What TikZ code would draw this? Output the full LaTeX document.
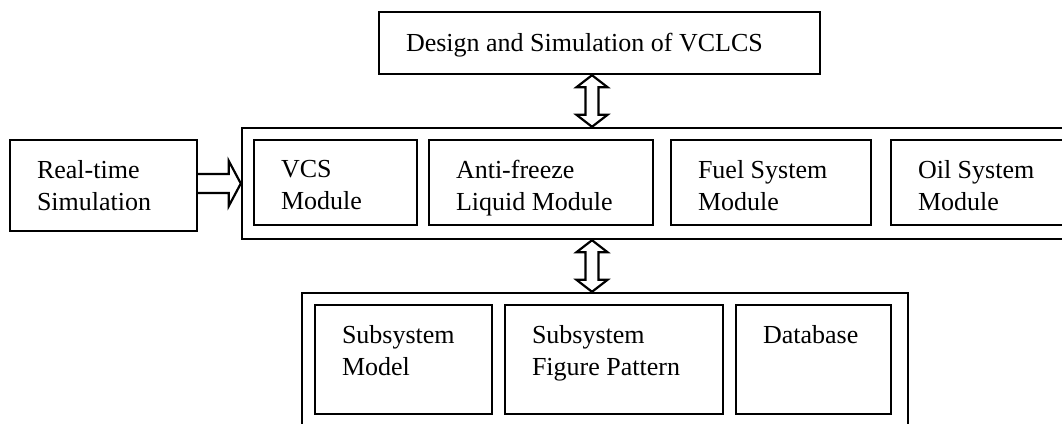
\documentclass[tikz,border=0pt]{standalone}
\usepackage{fontspec}
\setmainfont{Liberation Serif}
\usetikzlibrary{calc}

% hollow arrows between two points
\newcommand{\fatboth}[2]{%
  \draw[fat] (#1) -- ($(#1)+(15.5,12)$) -- ($(#1)+(6.5,12)$) -- ($(#2)+(6.5,-12)$)
    -- ($(#2)+(15.5,-12)$) -- (#2) -- ($(#2)+(-15.5,-12)$) -- ($(#2)+(-6.5,-12)$)
    -- ($(#1)+(-6.5,12)$) -- ($(#1)+(-15.5,12)$) -- cycle;}
\newcommand{\fatright}[2]{%
  \draw[fat] ($(#1)+(0,-9.5)$) -- ($(#2)+(-12,-9.5)$) -- ($(#2)+(-12,-22.5)$) -- (#2)
    -- ($(#2)+(-12,22.5)$) -- ($(#2)+(-12,9.5)$) -- ($(#1)+(0,9.5)$);}

\begin{document}
\begin{tikzpicture}[x=1pt, y=-1pt]

  % Styles
  \tikzset{
    box/.style={draw, line width=2.4pt, inner sep=0pt},
    txt/.style={anchor=north west, inner sep=0pt, align=left, font=\fontsize{26}{32.5}\selectfont},
    fat/.style={draw, line width=2.2pt, line join=miter}
  }

  \clip (0,0) rectangle (1062,423);

  % --- TOP BOX ---
  \node[box, minimum width=441pt, minimum height=62pt] (design) at (599.5,43) {};
  \node[txt] (design-t) at ([shift={(28,22.5)}]design.north west) {Design and Simulation of VCLCS};

  % --- INPUT ---
  \node[box, minimum width=187pt, minimum height=91pt] (realtime) at (103.5,185.5) {};
  \node[txt] (realtime-t) at ([shift={(28,21)}]realtime.north west) {Real-time\\Simulation};

  % --- MODULE LAYER ---
  \node[box, minimum width=838pt, minimum height=111pt] (modules) at (661,183.5) {};
  \node[box, minimum width=163pt, minimum height=85pt] (vcs) at (335.5,182.5) {};
  \node[box, minimum width=224pt, minimum height=85pt] (antifreeze) at (541,182.5) {};
  \node[box, minimum width=200pt, minimum height=85pt] (fuel) at (771,182.5) {};
  \node[box, minimum width=179pt, minimum height=85pt] (oil) at (980.5,182.5) {};
  \node[txt] (vcs-t) at ([shift={(28,21)}]vcs.north west) {VCS\\Module};
  \node[txt] (antifreeze-t) at ([shift={(28,21)}]antifreeze.north west) {Anti-freeze\\Liquid Module};
  \node[txt] (fuel-t) at ([shift={(28,21)}]fuel.north west) {Fuel System\\Module};
  \node[txt] (oil-t) at ([shift={(28,21)}]oil.north west) {Oil System\\Module};

  % --- LIBRARY LAYER ---
  \node[box, minimum width=606pt, minimum height=147pt] (library) at (605,366.5) {};
  \node[box, minimum width=177pt, minimum height=109pt] (submodel) at (403.5,359.5) {};
  \node[box, minimum width=218pt, minimum height=109pt] (subfig) at (614,359.5) {};
  \node[box, minimum width=155pt, minimum height=109pt] (database) at (813.5,359.5) {};
  \node[txt] (submodel-t) at ([shift={(28,21)}]submodel.north west) {Subsystem\\Model};
  \node[txt] (subfig-t) at ([shift={(28,21)}]subfig.north west) {Subsystem\\Figure Pattern};
  \node[txt] (database-t) at ([shift={(28,21)}]database.north west) {Database};

  % --- ARROWS ---
  \coordinate (ax) at (592,0);
  \coordinate (d1) at (design.south -| ax);
  \coordinate (d2) at (modules.north -| ax);
  \coordinate (d3) at (modules.south -| ax);
  \coordinate (d4) at (library.north -| ax);
  \coordinate (r1) at (realtime.east |- modules.west);
  \fatboth{d1}{d2}
  \fatboth{d3}{d4}
  \fatright{r1}{modules.west}

\end{tikzpicture}
\end{document}
